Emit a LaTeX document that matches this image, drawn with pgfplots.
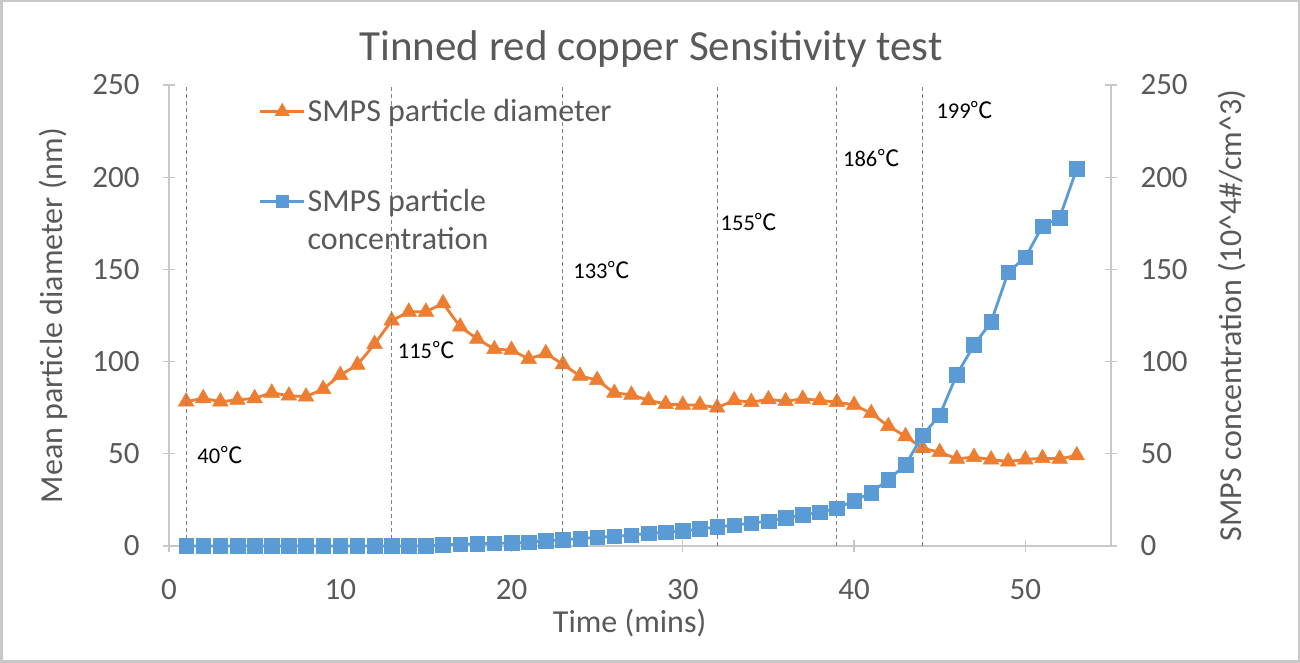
\documentclass[border=0pt]{standalone}
\usepackage{pgfplots}
\pgfplotsset{compat=1.18}
\usepackage{pgfplotstable}
\usepackage{fontspec}
\setmainfont{Carlito}
\newfontfamily\cjk{Noto Sans CJK SC}
\definecolor{txt}{HTML}{595959}
\definecolor{oran}{HTML}{ED7D31}
\definecolor{blu}{HTML}{5B9BD5}
\definecolor{axl}{HTML}{C8C8C8}
\newcommand{\degc}{{\cjk ℃}}
\newcommand{\fs}[2]{\fontsize{#1}{#2}\selectfont}

\pgfplotstableread{
x d
1 78.3
2 80.1
3 78.3
4 79.2
5 80.1
6 83.1
7 81.5
8 81.0
9 85.1
10 92.7
11 98.2
12 109.5
13 122.2
14 127.0
15 127.0
16 131.6
17 118.9
18 112.3
19 106.7
20 106.3
21 101.4
22 104.5
23 98.5
24 92.2
25 90.0
26 83.0
27 82.0
28 79.0
29 77.0
30 76.5
31 76.5
32 75.0
33 79.0
34 78.0
35 79.5
36 78.5
37 79.8
38 79.0
39 78.0
40 76.5
41 72.0
42 65.0
43 59.5
44 53.0
45 50.9
46 47.3
47 48.2
48 46.9
49 45.8
50 46.9
51 47.6
52 47.3
53 49.1
}\diam

\pgfplotstableread{
x c
1 0
2 0
3 0
4 0
5 0
6 0
7 0
8 0
9 0
10 0
11 0
12 0
13 0
14 0
15 0
16 0.6
17 0.9
18 1.2
19 1.4
20 1.6
21 2.0
22 2.8
23 3.4
24 4.0
25 4.7
26 5.2
27 5.9
28 6.9
29 7.5
30 8.2
31 9.2
32 10.3
33 11.3
34 12.4
35 13.5
36 15.2
37 16.8
38 18.2
39 20.5
40 24.5
41 29.0
42 36.0
43 44.0
44 60.0
45 71.0
46 93.0
47 109.0
48 121.5
49 148.5
50 156.5
51 173.5
52 178.0
53 204.5
}\conc

\pgfplotsset{
  common/.style={
    at={(169pt,117pt)}, anchor=south west,
    width=942pt, height=461pt, scale only axis,
    xmin=0, xmax=55, ymin=0, ymax=250,
    ytick={0,50,...,250},
    axis line style={color=axl, line width=1.3pt, -},
    tick style={color=axl, line width=1.3pt},
    major tick length=12pt, tick align=center,
    ticklabel style={font=\fs{31}{37}, text=txt},
    /pgf/number format/assume math mode=true,
    clip=false,
  },
  vline/.style={black!50, line width=1pt, dash pattern=on 4pt off 3pt, forget plot},
}
\tikzset{temp/.style={font=\fs{22.5}{26}, text=black, anchor=west, inner sep=0pt}}

\begin{document}
\begin{tikzpicture}[x=1pt,y=1pt]
\useasboundingbox (0,0) rectangle (1300,663);
\draw[color=axl, line width=2.5pt] (1.25,1.25) rectangle (1298.75,661.75);
\node[font=\fs{43}{50}, text=txt] at (651,614) {Tinned red copper Sensitivity test};

\begin{axis}[common,
  axis x line*=bottom, axis y line*=left,
  xtick={0,10,...,50},
  xticklabel shift=24pt,
  yticklabel shift=20pt,
  xlabel={Time (mins)},
  ylabel={Mean particle diameter (nm)},
  every axis x label/.style={at={(axis description cs:0.489,-0.167)}, anchor=center,
    font=\fs{32}{38}, text=txt},
  every axis y label/.style={at={(axis description cs:-0.123,0.5)}, anchor=center, rotate=90,
    font=\fs{32}{38}, text=txt},
]
\addplot[color=oran, line width=2.8pt, mark=triangle*, mark size=9pt,
  mark options={fill=oran, line width=0.5pt}] table[x=x, y=d] {\diam};
\end{axis}

\begin{axis}[common,
  axis x line=none, axis y line*=right,
  yticklabel shift=20pt,
  ylabel={SMPS concentration (10\string^4\#/cm\string^3)},
  every axis y label/.style={at={(axis description cs:1.128,0.5)}, anchor=center, rotate=90,
    font=\fs{32}{38}, text=txt},
  legend style={at={(axis description cs:0.092,0.978)}, anchor=north west,
    draw=none, fill=none, font=\fs{32}{38}, text=txt, row sep=58pt,
    cells={anchor=base west}},
  legend image code/.code={
    \draw[mark repeat=2, mark phase=2, #1, line width=2.8pt, mark size=6pt]
      plot coordinates {(0pt,10pt) (22pt,10pt) (44pt,10pt)};},
]
\addlegendimage{color=oran, mark=triangle*, mark options={fill=oran}}
\addlegendentry{SMPS particle diameter}
\addplot[color=blu, line width=2.8pt, mark=square*, mark size=7.3pt,
  mark options={fill=blu, line width=0.5pt}] table[x=x, y=c] {\conc};
\addlegendentry{\begin{tabular}[t]{@{}l@{}}SMPS particle\\concentration\end{tabular}}
\addplot[vline] coordinates {(1,0) (1,250)};
\addplot[vline] coordinates {(13,0) (13,250)};
\addplot[vline] coordinates {(23,0) (23,250)};
\addplot[vline] coordinates {(32,0) (32,250)};
\addplot[vline] coordinates {(39,0) (39,250)};
\addplot[vline] coordinates {(44,0) (44,250)};
\node[temp] at (axis cs:1.65,49.3) {40\degc};
\node[temp] at (axis cs:13.35,106.3) {115\degc};
\node[temp] at (axis cs:23.6,149.5) {133\degc};
\node[temp] at (axis cs:32.2,175.7) {155\degc};
\node[temp] at (axis cs:39.35,210.4) {186\degc};
\node[temp] at (axis cs:44.8,236.4) {199\degc};
\end{axis}
\end{tikzpicture}
\end{document}
